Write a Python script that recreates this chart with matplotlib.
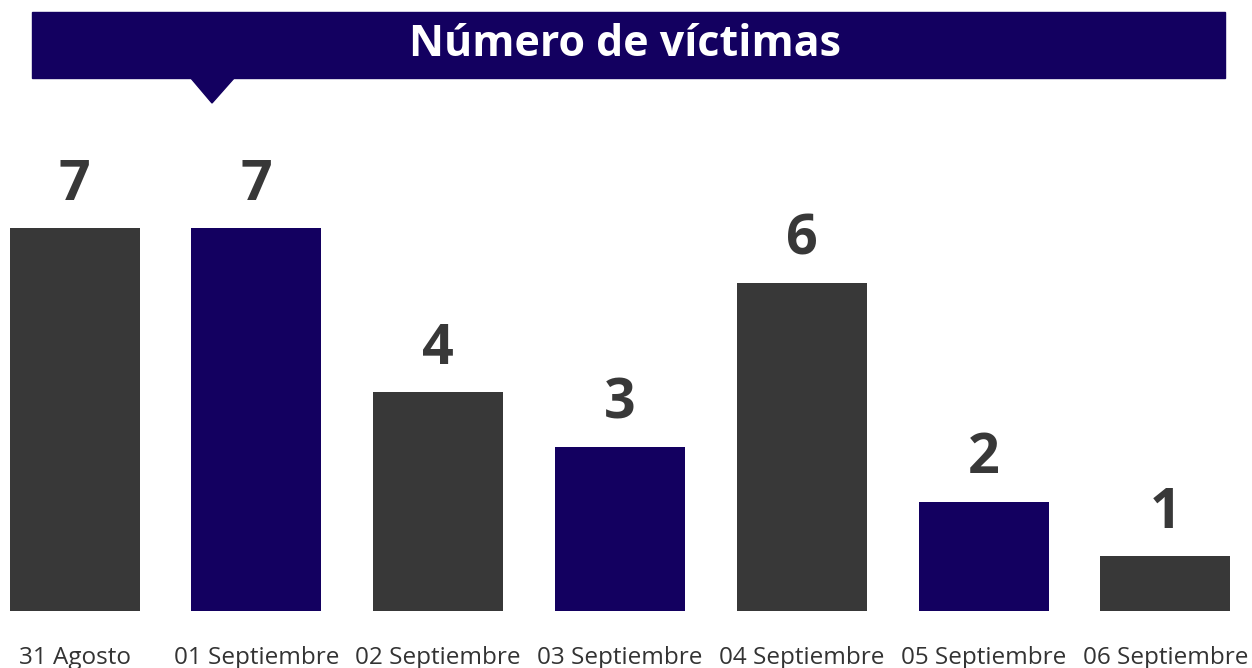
import matplotlib
matplotlib.use("Agg")
import matplotlib.pyplot as plt
from matplotlib.patches import Rectangle, Polygon

plt.rcParams['font.family'] = ['Open Sans', 'DejaVu Sans']

dates = ["31 Agosto", "01 Septiembre", "02 Septiembre", "03 Septiembre",
         "04 Septiembre", "05 Septiembre", "06 Septiembre"]
victims = [7, 7, 4, 3, 6, 2, 1]

DARK = "#383838"
NAVY = "#130060"
bar_colors = [DARK, NAVY, DARK, NAVY, DARK, NAVY, DARK]

W, H = 1252, 668
fig = plt.figure(figsize=(W / 100, H / 100), dpi=100)


def fx(px):
    return px / W


def fy(py):
    return 1 - py / H


# bar area: baseline at y=611px, about 54.7 px per victim
ax = fig.add_axes([fx(0), fy(611), fx(1240), (611 - 100) / H])
ax.bar(range(len(dates)), victims, width=0.715, color=bar_colors)
ax.set_xlim(-0.41, len(dates) - 1 + 0.41)
ax.set_ylim(0, 511 / 54.7)
for i, v in enumerate(victims):
    ax.annotate(str(v), (i, v), xytext=(0, 11), textcoords="offset points",
                ha="center", va="bottom", fontsize=40, fontweight="bold",
                color=DARK)
ax.set_xticks(range(len(dates)))
ax.set_xticklabels(dates, fontsize=17.5, color="#333333")
ax.tick_params(axis="x", length=0, pad=25)
ax.set_yticks([])
for s in ax.spines.values():
    s.set_visible(False)

# title banner with pointer
fig.patches.append(Rectangle((fx(32), fy(78)), fx(1225 - 32), (78 - 12) / H,
                             transform=fig.transFigure, color=NAVY, zorder=1))
fig.patches.append(Polygon([(fx(190), fy(77)), (fx(235), fy(77)), (fx(212), fy(103))],
                           closed=True, transform=fig.transFigure, color=NAVY, zorder=1))
fig.text(fx(625), fy(44), "Número de víctimas", ha="center", va="center",
         fontsize=31, fontweight="bold", color="white")

fig.savefig("out.png", dpi=100)
